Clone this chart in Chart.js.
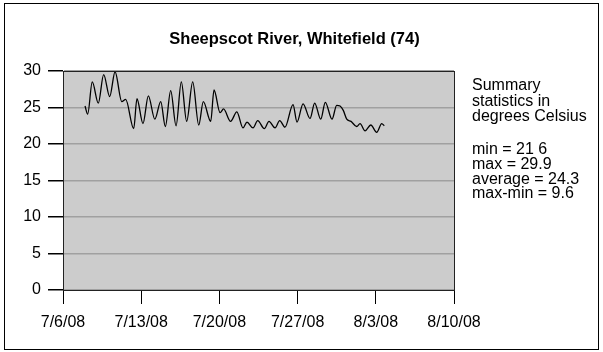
<!DOCTYPE html>
<html>
<head>
<meta charset="utf-8">
<script src="https://cdn.jsdelivr.net/npm/chart.js@4"></script>
<style>
  body { margin: 0; background: #fff; }
  #wrap { width: 603px; height: 352px; }
</style>
</head>
<body>
<div id="wrap"><canvas id="tempChart" width="603" height="352"></canvas></div>
<script>
// Sheepscot River, Whitefield (74) - water temp, days after 7/6/08
const dayOffsets = [1.97, 2.21, 2.62, 3.16, 3.64, 4.18, 4.66, 5.26, 5.61, 6.33, 6.62, 7.16, 7.64, 8.22,
  8.75, 9.16, 9.64, 10.12, 10.59, 11.07, 11.61, 12.15, 12.56, 13.22, 13.52, 14.06, 14.37, 15.0, 15.56,
  16.11, 16.47, 17.01, 17.43, 18.02, 18.44, 18.98, 19.40, 19.87, 20.59, 20.95, 21.49, 22.11, 22.53,
  23.07, 23.48, 24.08, 24.50, 24.80, 25.09, 25.40, 25.78, 26.29, 26.59, 27.04, 27.55, 28.08, 28.53, 28.76];
const temps = [25.2, 24.1, 28.5, 25.6, 29.5, 26.5, 29.9, 25.8, 26.1, 22.1, 26.2, 22.8, 26.6, 23.4,
  25.8, 22.4, 27.3, 22.5, 28.5, 23.1, 28.5, 22.6, 25.8, 23.1, 27.4, 24.3, 24.8, 23.1, 24.4,
  22.2, 23.0, 22.2, 23.2, 22.1, 23.1, 22.2, 23.2, 22.3, 25.4, 23.0, 25.5, 23.5, 25.6,
  23.4, 25.7, 23.4, 25.3, 25.2, 24.6, 23.4, 23.1, 22.4, 22.8, 21.8, 22.6, 21.6, 22.8, 22.5];
const tickLabels = ['7/6/08', '7/13/08', '7/20/08', '7/27/08', '8/3/08', '8/10/08'];
const chartTitle = 'Sheepscot River, Whitefield (74)';
const statLines = ['Summary', 'statistics in', 'degrees Celsius', '', 'min = 21 6', 'max = 29.9', 'average = 24.3', 'max-min = 9.6'];

Chart.defaults.font.family = 'Arial, "Liberation Sans", sans-serif';
Chart.defaults.font.size = 16;
Chart.defaults.color = '#000';

// gray plot area, frame, title and side text
const decor = {
  id: 'decor',
  beforeDraw(chart) {
    const { ctx, chartArea: a } = chart;
    ctx.save();
    ctx.fillStyle = '#cccccc';
    ctx.fillRect(a.left, a.top, a.right - a.left, a.bottom - a.top);
    ctx.restore();
  },
  afterDraw(chart) {
    const { ctx, chartArea: a } = chart;
    ctx.save();
    ctx.strokeStyle = '#222';
    ctx.lineWidth = 1;
    ctx.strokeRect(Math.round(a.left) + 0.5, Math.round(a.top) + 0.5, Math.round(a.right - a.left), Math.round(a.bottom - a.top));
    ctx.strokeStyle = '#000';
    ctx.strokeRect(4.5, 3.5, 594, 346);
    ctx.fillStyle = '#000';
    ctx.font = 'bold 16.5px Arial, "Liberation Sans", sans-serif';
    ctx.textAlign = 'center';
    ctx.textBaseline = 'alphabetic';
    ctx.fillText(chartTitle, 294.5, 44);
    ctx.font = '16px Arial, "Liberation Sans", sans-serif';
    ctx.textAlign = 'left';
    statLines.forEach((t, i) => {
      const y = i < 4 ? 90 + i * 15.5 : 154.3 + (i - 4) * 14.7;
      ctx.fillText(t, 472, y);
    });
    ctx.restore();
  }
};

new Chart(document.getElementById('tempChart'), {
  type: 'line',
  data: {
    datasets: [{
      data: dayOffsets.map((d, i) => ({ x: d, y: temps[i] })),
      borderColor: '#000',
      borderWidth: 1.3,
      pointRadius: 0,
      cubicInterpolationMode: 'monotone',
      fill: false
    }]
  },
  options: {
    responsive: false,
    animation: false,
    layout: { padding: { top: 71, right: 149, left: 0, bottom: 0 } },
    plugins: { legend: { display: false }, tooltip: { enabled: false } },
    scales: {
      x: {
        type: 'linear', min: 0, max: 35,
        afterFit: s => { s.height = 62; },
        grid: { drawOnChartArea: false, tickLength: 14, tickColor: '#000', lineWidth: 1 },
        border: { color: '#000' },
        ticks: { stepSize: 7, autoSkip: false, maxRotation: 0, padding: 9,
          callback: v => tickLabels[Math.round(v / 7)] }
      },
      y: {
        min: 0, max: 30,
        afterFit: s => { s.width = 63; },
        grid: { color: '#a0a0a0', lineWidth: 1.5, tickLength: 15, tickColor: '#000' },
        border: { color: '#000' },
        ticks: { stepSize: 5, padding: 7 }
      }
    }
  },
  plugins: [decor]
});
</script>
</body>
</html>
